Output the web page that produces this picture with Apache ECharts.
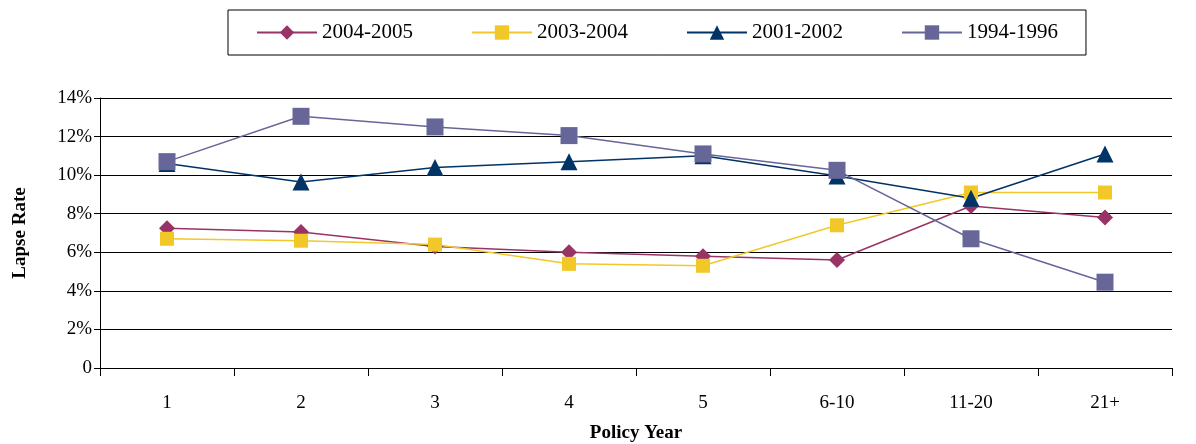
<!DOCTYPE html><html><head><meta charset="utf-8">
<script src="https://cdn.jsdelivr.net/npm/echarts@6/dist/echarts.min.js"></script>
<style>body{margin:0}#c{width:1196px;height:444px}</style></head><body><div id="c"></div><script>
var categories=['1','2','3','4','5','6-10','11-20','21+'];
var s2004=[7.25,7.05,6.3,6.0,5.8,5.6,8.4,7.8];
var s2003=[6.7,6.6,6.4,5.4,5.3,7.4,9.1,9.1];
var s2001=[10.6,9.65,10.4,10.7,11.0,9.95,8.8,11.1];
var s1994=[10.7,13.05,12.5,12.05,11.1,10.25,6.7,4.45];
var F='Liberation Serif';
function ser(n,d,c,sym,sz){return{name:n,type:'line',data:d,symbol:sym,symbolSize:sz,itemStyle:{color:c},lineStyle:{color:c,width:1.5}};}
var ch=echarts.init(document.getElementById('c'));
ch.setOption({animation:false,
legend:{top:10,left:228,itemGap:58,itemWidth:60,itemHeight:18,borderColor:'#000',borderWidth:1,padding:[12,28],textStyle:{fontFamily:F,fontSize:21,color:'#000'}},
grid:{left:100,right:24,top:98,bottom:76,containLabel:false,outerBoundsMode:'none'},
xAxis:{type:'category',data:categories,name:'Policy Year',nameLocation:'middle',nameGap:56,nameTextStyle:{fontFamily:F,fontSize:19,fontWeight:'bold',color:'#000'},
axisLine:{lineStyle:{color:'#000'}},axisTick:{show:true,length:8,lineStyle:{color:'#000'}},axisLabel:{fontFamily:F,fontSize:19,color:'#000',margin:26}},
yAxis:{type:'value',min:0,max:14,interval:2,name:'Lapse Rate',nameLocation:'middle',nameGap:70,nameTextStyle:{fontFamily:F,fontSize:19,fontWeight:'bold',color:'#000'},
axisLine:{show:true,lineStyle:{color:'#000'}},axisTick:{show:true,length:6,lineStyle:{color:'#000'}},splitLine:{lineStyle:{color:'#000'}},
axisLabel:{fontFamily:F,fontSize:19,color:'#000',formatter:function(v){return v===0?'0':v+'%';}}},
series:[ser('2004-2005',s2004,'#993366','diamond',16),ser('2003-2004',s2003,'#f2c828','rect',14),ser('2001-2002',s2001,'#003366','triangle',17),ser('1994-1996',s1994,'#666699','rect',17)]});
</script></body></html>
